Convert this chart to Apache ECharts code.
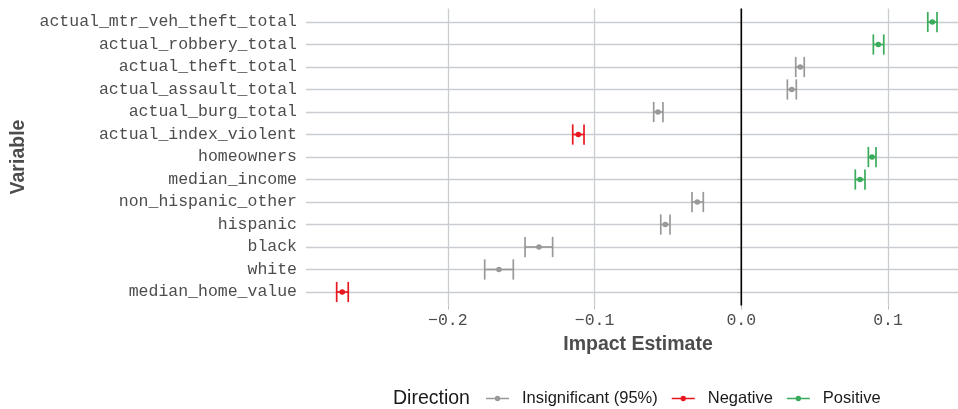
<!DOCTYPE html>
<html>
<head>
<meta charset="utf-8">
<script src="https://cdn.jsdelivr.net/npm/echarts@6/dist/echarts.min.js"></script>
<style>html,body{margin:0;padding:0;background:#fff;}#chart{width:958px;height:409px;}</style>
</head>
<body>
<div id="chart"></div>
<script>
const categories = ['actual_mtr_veh_theft_total','actual_robbery_total','actual_theft_total','actual_assault_total','actual_burg_total','actual_index_violent','homeowners','median_income','non_hispanic_other','hispanic','black','white','median_home_value'];
const estimates = [0.1302, 0.0934, 0.0402, 0.0344, -0.0568, -0.1111, 0.0891, 0.0809, -0.0300, -0.0518, -0.1379, -0.1652, -0.2720];
const lowerCI = [0.1271, 0.0900, 0.0371, 0.0314, -0.0597, -0.1149, 0.0866, 0.0777, -0.0336, -0.0549, -0.1474, -0.1749, -0.2758];
const upperCI = [0.1334, 0.0971, 0.0429, 0.0375, -0.0534, -0.1072, 0.0918, 0.0843, -0.0259, -0.0486, -0.1286, -0.1554, -0.2679];
const directions = ['Positive','Positive','Insignificant (95%)','Insignificant (95%)','Insignificant (95%)','Negative','Positive','Positive','Insignificant (95%)','Insignificant (95%)','Insignificant (95%)','Insignificant (95%)','Negative'];
const directionNames = ['Insignificant (95%)','Negative','Positive'];
const directionColors = ['#999999','#e8161e','#3aab5b'];
const xTicks = [-0.2, -0.1, 0.0, 0.1];

const X_MIN = -0.2967, X_MAX = 0.1477;
const gridColor = '#c9cdd2';
const mono = '"Liberation Mono", "DejaVu Sans Mono", monospace';
const sans = '"Liberation Sans", Arial, sans-serif';

function renderErr(params, api) {
  const y = api.value(0);
  const pE = api.coord([api.value(1), y]);
  const pL = api.coord([api.value(2), y]);
  const pH = api.coord([api.value(3), y]);
  const h = api.size([0, 1])[1] * 0.45;
  const color = api.visual('color');
  const ls = {stroke: color, lineWidth: 1.7};
  return {type: 'group', children: [
    {type: 'line', shape: {x1: pL[0], y1: pL[1], x2: pH[0], y2: pH[1]}, style: ls},
    {type: 'line', shape: {x1: pL[0], y1: pL[1] - h, x2: pL[0], y2: pL[1] + h}, style: ls},
    {type: 'line', shape: {x1: pH[0], y1: pH[1] - h, x2: pH[0], y2: pH[1] + h}, style: ls},
    {type: 'circle', shape: {cx: pE[0], cy: pE[1], r: 2.8}, style: {fill: color}}
  ]};
}

const errSeries = directionNames.map((name, k) => ({
  name: name,
  type: 'custom',
  xAxisIndex: 1,
  yAxisIndex: 1,
  renderItem: renderErr,
  itemStyle: {color: directionColors[k]},
  encode: {x: [1, 2, 3], y: 0},
  data: categories.map((c, i) => [i, estimates[i], lowerCI[i], upperCI[i]]).filter((d, i) => directions[i] === name),
  z: 5
}));

const zeroSeries = {
  type: 'custom',
  xAxisIndex: 0,
  yAxisIndex: 0,
  silent: true,
  data: [[0, 0]],
  renderItem: function (params, api) {
    const x = api.coord([api.value(0), 0])[0];
    const cs = params.coordSys;
    return {type: 'line', shape: {x1: x, y1: cs.y, x2: x, y2: cs.y + cs.height}, style: {stroke: '#000', lineWidth: 1.6}};
  },
  z: 4
};

const legendIcon = 'path://M0,2.25H24V3.75H0Z M9.2,3A2.8,2.8 0 1 1 14.8,3A2.8,2.8 0 1 1 9.2,3Z';

const option = {
  animation: false,
  backgroundColor: '#fff',
  title: {
    text: 'Direction', left: 393, top: 389, padding: 0,
    textStyle: {fontFamily: sans, fontSize: 19.5, fontWeight: 'normal', color: '#1a1a1a'}
  },
  legend: {
    data: directionNames, left: 486, top: 390, padding: 0,
    icon: legendIcon, itemWidth: 23, itemHeight: 6, itemGap: 14,
    textStyle: {fontFamily: sans, fontSize: 16.5, color: '#1a1a1a', padding: [0, 0, 0, 8]}
  },
  grid: [
    {left: 306, right: 0, top: 8.5, bottom: 103.5},
    {left: 306, right: 0, top: 22, bottom: 117}
  ],
  xAxis: [
    {
      gridIndex: 0, type: 'value', min: X_MIN, max: X_MAX,
      axisLine: {show: false},
      axisTick: {show: true, length: 4, lineStyle: {color: '#b9bcc0'}, customValues: xTicks},
      axisLabel: {
        customValues: xTicks, margin: 7, fontFamily: mono, fontSize: 16.5, color: '#4d4d4d',
        formatter: v => (v < 0 ? '\u2212' : '') + Math.abs(v).toFixed(1)
      },
      splitLine: {show: true, lineStyle: {color: gridColor, width: 1.3}},
      name: 'Impact Estimate', nameLocation: 'middle', nameGap: 22,
      nameTextStyle: {fontFamily: sans, fontSize: 19.5, fontWeight: 'bold', color: '#4d4d4d', padding: [0, 0, 0, 12]}
    },
    {gridIndex: 1, type: 'value', min: X_MIN, max: X_MAX, show: false}
  ],
  yAxis: [
    {gridIndex: 0, type: 'value', min: 0, max: 1, show: false},
    {
      gridIndex: 1, type: 'category', data: categories, inverse: true, boundaryGap: false,
      axisLine: {show: false},
      axisTick: {show: true, length: 4, lineStyle: {color: '#b9bcc0'}},
      axisLabel: {margin: 9, fontFamily: mono, fontSize: 16.5, color: '#4d4d4d', interval: 0},
      splitLine: {show: true, lineStyle: {color: gridColor, width: 1.3}},
      name: 'Variable', nameLocation: 'middle', nameGap: 272, nameRotate: 90,
      nameTextStyle: {fontFamily: sans, fontSize: 19.5, fontWeight: 'bold', color: '#4d4d4d'}
    }
  ],
  series: [zeroSeries].concat(errSeries)
};

const chart = echarts.init(document.getElementById('chart'), null, {renderer: 'canvas'});
chart.setOption(option);
</script>
</body>
</html>
